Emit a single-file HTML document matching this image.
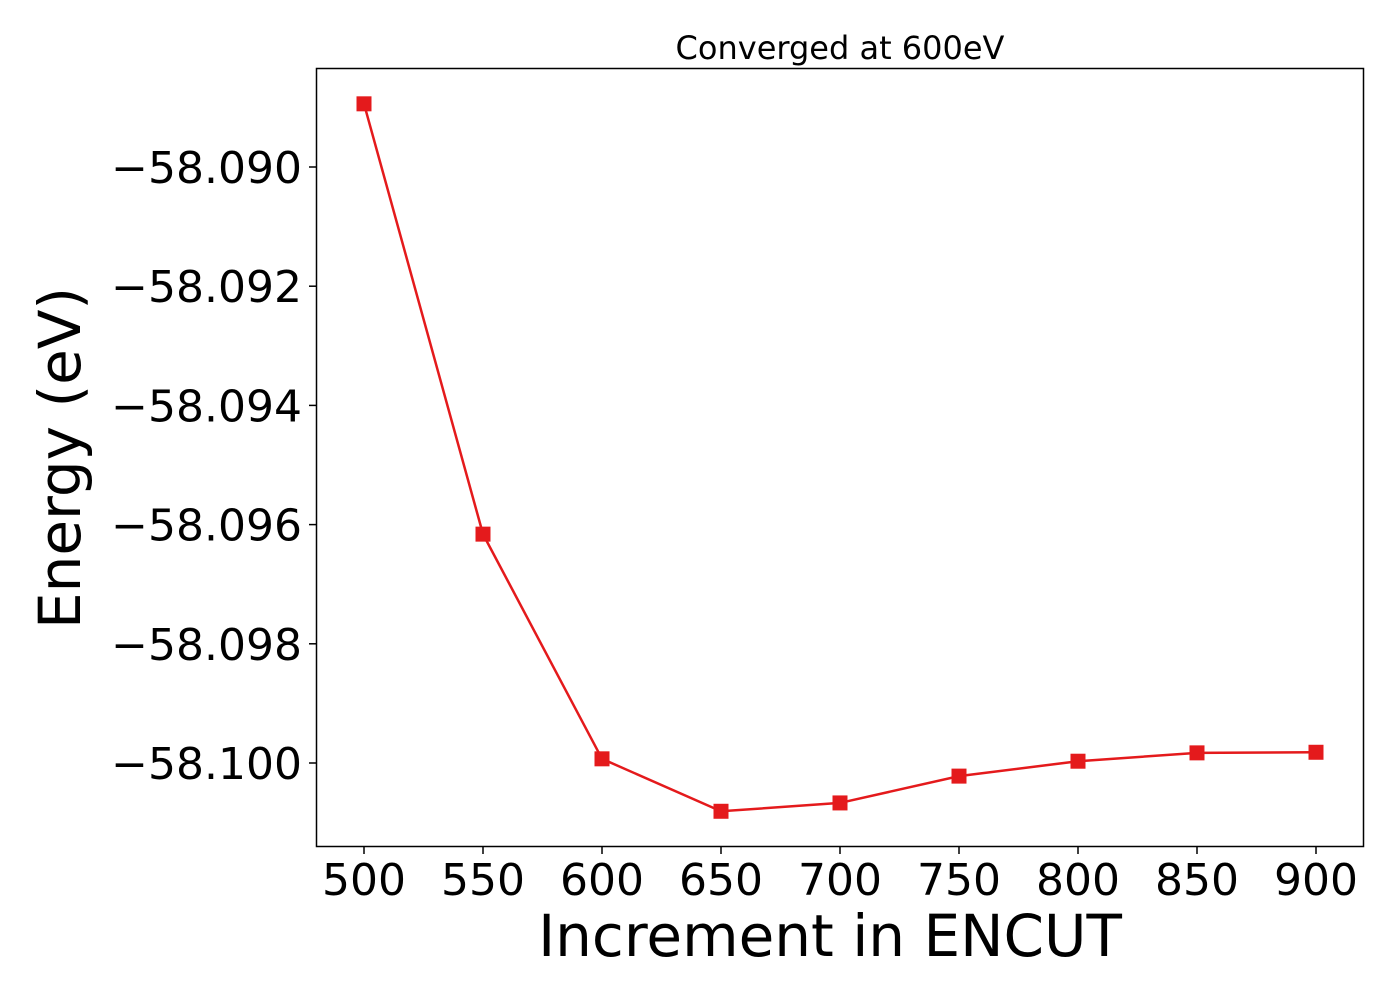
<!DOCTYPE html>
<html><head><meta charset="utf-8"><style>
body{margin:0;background:#fff;}
svg text{font-family:"DejaVu Sans","Liberation Sans",sans-serif;fill:#000;}
</style></head><body>
<svg id="chart" width="1400" height="1000">
<text x="840" y="59" font-size="32" text-anchor="middle">Converged at 600eV</text>
<g id="ticks"></g>
<g id="series"></g>
<rect x="316.5" y="68.5" width="1047" height="778" fill="none" stroke="#000" stroke-width="1.5"/>
<text x="830" y="956" font-size="58" text-anchor="middle">Increment in ENCUT</text>
<text transform="translate(80,458) rotate(-90)" font-size="58" text-anchor="middle">Energy (eV)</text>
</svg>
<script>
const encut = [500,550,600,650,700,750,800,850,900];
const energy = [-58.08894,-58.09616,-58.09993,-58.10081,-58.10067,-58.10022,-58.09997,-58.09983,-58.09982];
const xTicks = [500,550,600,650,700,750,800,850,900];
const yTicks = [-58.090,-58.092,-58.094,-58.096,-58.098,-58.100];
const yTickLabels = ["\u221258.090","\u221258.092","\u221258.094","\u221258.096","\u221258.098","\u221258.100"];

const NS="http://www.w3.org/2000/svg";
function xs(v){return 364+(v-500)*(1316-364)/400;}
function ys(v){return 167+(-58.090-v)*(763-167)/0.010;}
const tg=document.getElementById('ticks');
xTicks.forEach(t=>{
  const l=document.createElementNS(NS,'line');
  l.setAttribute('x1',xs(t));l.setAttribute('x2',xs(t));l.setAttribute('y1',847);l.setAttribute('y2',854);
  l.setAttribute('stroke','#000');l.setAttribute('stroke-width','1.5');
  
  
  tg.appendChild(l);
  const tx=document.createElementNS(NS,'text');
  tx.setAttribute('x',xs(t));tx.setAttribute('y',895);tx.setAttribute('font-size','44');tx.setAttribute('text-anchor','middle');
  tx.textContent=t;
  
  
  tg.appendChild(tx);
});
yTicks.forEach((t,i)=>{
  const l=document.createElementNS(NS,'line');
  l.setAttribute('x1',309);l.setAttribute('x2',316);l.setAttribute('y1',ys(t));l.setAttribute('y2',ys(t));
  l.setAttribute('stroke','#000');l.setAttribute('stroke-width','1.5');
  
  
  tg.appendChild(l);
  const tx=document.createElementNS(NS,'text');
  tx.setAttribute('x',302);tx.setAttribute('y',ys(t)+16);tx.setAttribute('font-size','44');tx.setAttribute('text-anchor','end');
  tx.textContent=yTickLabels[i];
  
  
  tg.appendChild(tx);
});
const sg=document.getElementById('series');
const pl=document.createElementNS(NS,'polyline');
pl.setAttribute('points',encut.map((v,i)=>xs(v)+','+ys(energy[i])).join(' '));
pl.setAttribute('fill','none');pl.setAttribute('stroke','#e41a1c');pl.setAttribute('stroke-width','2.5');


sg.appendChild(pl);
encut.forEach((v,i)=>{
  const r=document.createElementNS(NS,'rect');
  r.setAttribute('x',xs(v)-7.5);r.setAttribute('y',ys(energy[i])-7.5);r.setAttribute('width',15);r.setAttribute('height',15);
  r.setAttribute('fill','#e41a1c');
  
  
  sg.appendChild(r);
});
</script>
</body></html>
